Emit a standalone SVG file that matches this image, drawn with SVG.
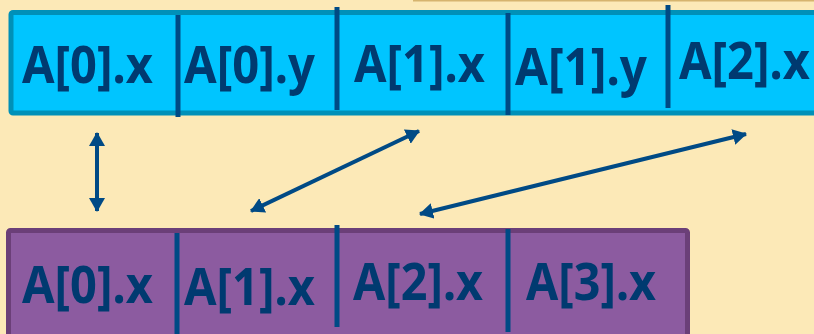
<svg xmlns="http://www.w3.org/2000/svg" width="814" height="334" viewBox="0 0 814 334">
<style>
.t{font-family:"Noto Sans","Open Sans","DejaVu Sans",sans-serif;font-weight:bold;font-size:52px;fill:#003a70}
.div{stroke:#004a85;stroke-width:5}
.con{stroke:#004a85;stroke-width:4;fill:none;marker-start:url(#ah);marker-end:url(#ah)}
</style>
<defs>
<marker id="ah" viewBox="0 0 14 16" refX="13" refY="8" markerWidth="14" markerHeight="16" markerUnits="userSpaceOnUse" orient="auto-start-reverse">
<path d="M0,0 L14,8 L0,16 Z" fill="#004a85"/>
</marker>
</defs>
<rect width="814" height="334" fill="#fce9b7"/>
<line x1="413" y1="0.5" x2="814" y2="0.5" stroke="#d6b46e" stroke-width="2"/>
<g id="top-array">
<rect x="11" y="12.5" width="810" height="100.5" rx="2" fill="#00c5ff" stroke="#0090b8" stroke-width="5"/>
<line class="div" x1="178" y1="15" x2="178" y2="117"/>
<line class="div" x1="337" y1="7" x2="337" y2="110"/>
<line class="div" x1="508" y1="13" x2="508" y2="115"/>
<line class="div" x1="668" y1="5" x2="668" y2="108"/>
</g>
<g id="top-a0x"><text class="t" x="22" y="83" textLength="131" lengthAdjust="spacingAndGlyphs">A[0].x</text></g>
<g id="top-a0y"><text class="t" x="184" y="83" textLength="131" lengthAdjust="spacingAndGlyphs">A[0].y</text></g>
<g id="top-a1x"><text class="t" x="354" y="82" textLength="131" lengthAdjust="spacingAndGlyphs">A[1].x</text></g>
<g id="top-a1y"><text class="t" x="515" y="85" textLength="132" lengthAdjust="spacingAndGlyphs">A[1].y</text></g>
<g id="top-a2x"><text class="t" x="679" y="79" textLength="131" lengthAdjust="spacingAndGlyphs">A[2].x</text></g>
<g id="bottom-array">
<rect x="8.5" y="230.5" width="679" height="120" rx="2" fill="#8c5ba0" stroke="#6b3f78" stroke-width="5"/>
<line class="div" x1="177" y1="233" x2="177" y2="334"/>
<line class="div" x1="337" y1="225" x2="337" y2="327"/>
<line class="div" x1="508" y1="229" x2="508" y2="332"/>
</g>
<g id="bot-a0x"><text class="t" x="22" y="303" textLength="131" lengthAdjust="spacingAndGlyphs">A[0].x</text></g>
<g id="bot-a1x"><text class="t" x="184" y="305" textLength="131" lengthAdjust="spacingAndGlyphs">A[1].x</text></g>
<g id="bot-a2x"><text class="t" x="353" y="300" textLength="130" lengthAdjust="spacingAndGlyphs">A[2].x</text></g>
<g id="bot-a3x"><text class="t" x="526" y="300" textLength="130" lengthAdjust="spacingAndGlyphs">A[3].x</text></g>
<g id="connectors">
<line class="con" x1="97" y1="133" x2="97" y2="211"/>
<line class="con" x1="251" y1="211" x2="419" y2="131"/>
<line class="con" x1="420" y1="214" x2="746" y2="134"/>
</g>
</svg>
